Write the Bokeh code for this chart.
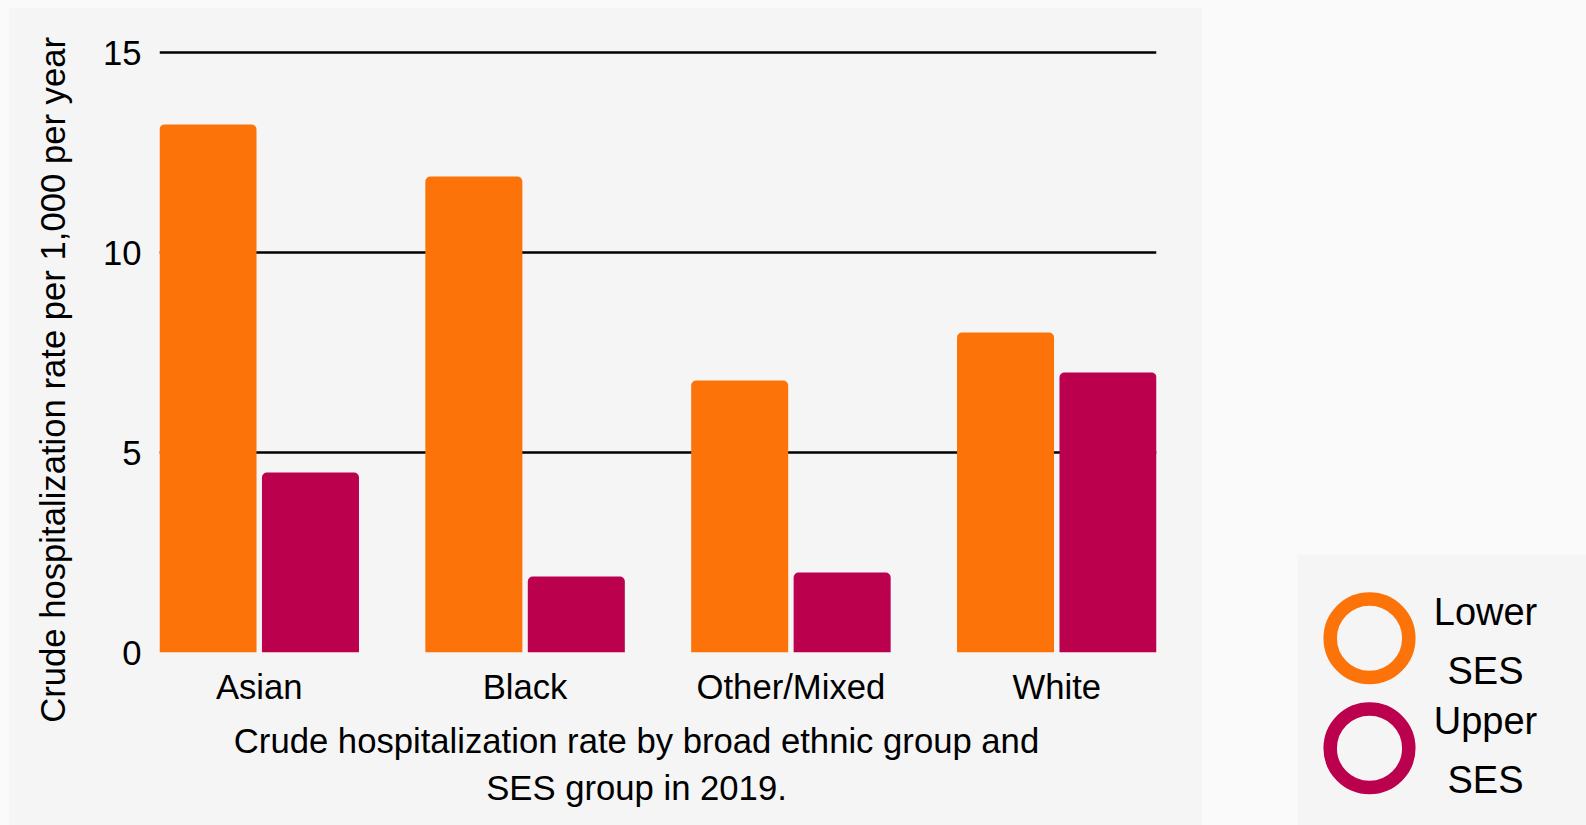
import math
from bokeh.plotting import figure
from bokeh.models import ColumnDataSource, FactorRange, Label, Range1d, FixedTicker
from bokeh.layouts import row, column
from bokeh.transform import dodge
from bokeh.embed import file_html
from bokeh.resources import INLINE

# ---- data ----
groups = ["Asian", "Black", "Other/Mixed", "White"]
lower_ses = [13.2, 11.9, 6.8, 8.0]
upper_ses = [4.5, 1.9, 2.0, 7.0]
series_names = ["Lower SES", "Upper SES"]
y_ticks = [0, 5, 10, 15]
y_title = "Crude hospitalization rate per 1,000 per year"
x_title_lines = ["Crude hospitalization rate by broad ethnic group and", "SES group in 2019."]

# ---- style ----
FONT = "Liberation Sans"
FS = 34.67          # px, axis text
FS_LEG = 38.0       # px, legend text
ORANGE = "#FC7409"
PURPLE = "#BB004D"
PANEL = "#f5f5f5"
OUTER = "#fafafa"
K = 0.39            # label baseline correction (fraction of font size)


def text_panel(w, h, margin):
    f = figure(width=w, height=h, x_range=Range1d(0, w), y_range=Range1d(h, 0),
               x_axis_location=None, y_axis_location=None,
               output_backend="svg", toolbar_location=None, min_border=0,
               background_fill_color=PANEL, border_fill_color=PANEL, outline_line_color=None)
    f.grid.visible = False
    f.title = None
    f.frame_align = False
    f.margin = margin
    return f


def label(x, y, text, size, **kw):
    return Label(x=x, y=y, x_units="canvas", y_units="canvas", text=text,
                 text_align="center", text_baseline="alphabetic",
                 text_font=FONT, text_font_size=f"{size}px", text_color="black", **kw)


src = ColumnDataSource(dict(group=groups, lower=lower_ses, upper=upper_ses))

# ---- main chart ----
p = figure(
    x_range=FactorRange(factors=groups, range_padding=-0.1248, range_padding_units="absolute"),
    y_range=Range1d(0, 15.05),
    width=1122, height=704,
    output_backend="svg", toolbar_location=None,
    min_border_left=79, min_border_right=46, min_border_top=42, min_border_bottom=60,
    background_fill_color=PANEL, border_fill_color=PANEL, outline_line_color=None,
)
p.title = None
p.frame_align = False
p.margin = 0

bw = 0.365
off = 0.1927
p.vbar(x=dodge("group", -off, range=p.x_range), top="lower", width=bw, source=src,
       fill_color=ORANGE, line_color=None, border_radius=(5, 5, 0, 0))
p.vbar(x=dodge("group", off, range=p.x_range), top="upper", width=bw, source=src,
       fill_color=PURPLE, line_color=None, border_radius=(5, 5, 0, 0))

p.xgrid.grid_line_color = None
p.ygrid.ticker = FixedTicker(ticks=y_ticks)
p.ygrid.grid_line_color = "black"
p.ygrid.grid_line_width = 2.6

p.yaxis.ticker = FixedTicker(ticks=y_ticks)
for ax in (p.xaxis, p.yaxis):
    ax.axis_line_color = None
    ax.major_tick_line_color = None
    ax.minor_tick_line_color = None
    ax.major_label_text_font = FONT
    ax.major_label_text_font_size = f"{FS}px"
    ax.major_label_text_color = "black"
p.yaxis.major_label_standoff = 12
p.xaxis.major_label_standoff = 9

# ---- axis titles ----
yt = text_panel(71, 817, 0)
yt.add_layout(label(57.5 - K * FS, 371.4, y_title, FS, angle=math.pi / 2))

xt = text_panel(1122, 113, 0)
for i, line in enumerate(x_title_lines):
    xt.add_layout(label(556, 41.8 + i * 47.7 - K * FS, line, FS))

chart = row(yt, column(p, xt, styles={"background-color": PANEL}),
            styles={"background-color": PANEL})
chart.margin = (8, 0, 0, 9)

# ---- legend panel ----
L = text_panel(289, 271, (554, 0, 0, 95))
colors = [ORANGE, PURPLE]
for i, name in enumerate(series_names):
    L.scatter(x=[72], y=[83.7 + i * 110], size=78.6, marker="circle", fill_alpha=0,
              line_color=colors[i], line_width=13.5)
    for j, word in enumerate(name.split()):
        L.add_layout(label(188, 72.1 + i * 109.3 + j * 59.2 - K * FS_LEG, word, FS_LEG))

root = row(chart, L)
root.styles = {"background-color": OUTER}

open("out.html", "w").write(file_html(root, INLINE))
